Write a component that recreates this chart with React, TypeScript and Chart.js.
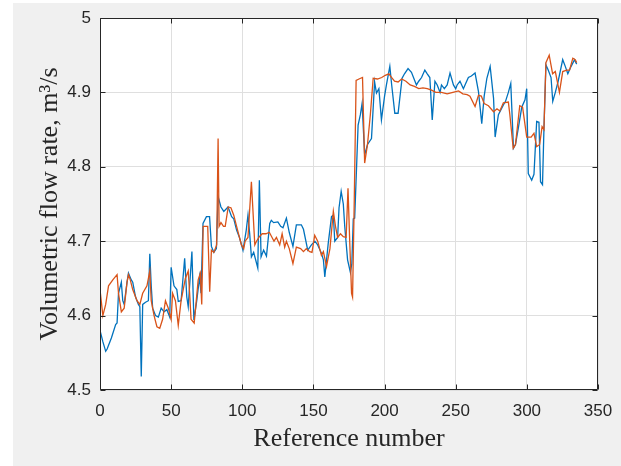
import React, { useEffect, useRef } from "react";
import { Chart, registerables } from "chart.js";

Chart.register(...registerables);

// Blue series (reference number, flow rate)
const blueX = [
  0, 2, 4, 5, 8, 11, 12, 13, 15, 16,
  17, 19, 20, 22, 23, 25, 27, 28, 29, 30,
  32, 34, 35, 36, 37, 39, 41, 43, 45, 47,
  49, 50, 52, 54, 55, 57, 59.5, 61, 62, 64.6,
  66, 68, 70, 71, 72.4, 74.8, 77, 78.3, 80, 81.8,
  83, 85, 87, 90, 92.5, 94, 96, 98, 100.5, 102.8,
  104, 105.2, 106.4, 108, 110.9, 112, 113.2, 115, 117, 119.3,
  120.4, 122, 125, 127, 128.6, 131, 133, 135.6, 138, 141.5,
  143, 146, 148.6, 151, 153, 155.6, 157, 158, 160.4, 162.7,
  164, 165, 167, 168, 169.5, 171, 172, 174, 176, 177,
  178, 179, 181.4, 183, 184.2, 186, 188, 190.8, 193, 194.3,
  196, 197.8, 200, 201.3, 203.7, 205, 207.2, 209.5, 212.3, 214,
  216.5, 218.9, 222.4, 224, 226, 228.3, 230, 231.8, 233.5, 235.4,
  237, 239, 240, 242, 244, 246, 248.4, 250, 251, 253,
  255.4, 257, 258.9, 261, 263.6, 266, 268.3, 270, 271.9, 274.2,
  276.6, 277.7, 280, 283.5, 285, 287, 288.7, 290.6, 292, 294,
  296.4, 298.7, 299.9, 301, 303.4, 305, 306.9, 308.5, 309.6, 311,
  312, 313.4, 315, 317, 318.2, 320, 322, 325.2, 327, 328.8,
  331.1, 333.5, 335,
];
const blueY = [
  4.58, 4.565, 4.552, 4.555, 4.57, 4.588, 4.59, 4.63, 4.645, 4.62,
  4.615, 4.645, 4.657, 4.648, 4.645, 4.625, 4.615, 4.612, 4.518, 4.615,
  4.618, 4.62, 4.683, 4.64, 4.61, 4.6, 4.598, 4.61, 4.605, 4.608,
  4.598, 4.665, 4.64, 4.635, 4.619, 4.62, 4.677, 4.625, 4.612, 4.686,
  4.594, 4.62, 4.652, 4.63, 4.724, 4.733, 4.733, 4.693, 4.685, 4.69,
  4.76, 4.746, 4.74, 4.746, 4.733, 4.73, 4.715, 4.705, 4.688, 4.715,
  4.735, 4.71, 4.679, 4.685, 4.664, 4.782, 4.679, 4.688, 4.68, 4.724,
  4.728, 4.725, 4.726, 4.72, 4.718, 4.731, 4.712, 4.693, 4.722, 4.722,
  4.716, 4.688, 4.695, 4.7, 4.695, 4.684, 4.675, 4.652, 4.697, 4.733,
  4.735, 4.7, 4.705, 4.745, 4.767, 4.75, 4.72, 4.675, 4.658, 4.67,
  4.73, 4.731, 4.856, 4.87, 4.885, 4.816, 4.83, 4.838, 4.914, 4.899,
  4.905, 4.863, 4.895, 4.91, 4.935, 4.91, 4.872, 4.872, 4.919, 4.925,
  4.932, 4.927, 4.91, 4.915, 4.92, 4.93, 4.925, 4.92, 4.863, 4.915,
  4.91, 4.9, 4.91, 4.905, 4.91, 4.926, 4.91, 4.905, 4.91, 4.915,
  4.905, 4.912, 4.92, 4.922, 4.926, 4.901, 4.858, 4.895, 4.919, 4.935,
  4.892, 4.84, 4.87, 4.883, 4.888, 4.9, 4.912, 4.825, 4.83, 4.852,
  4.88, 4.89, 4.905, 4.791, 4.782, 4.79, 4.861, 4.86, 4.78, 4.776,
  4.85, 4.937, 4.93, 4.92, 4.888, 4.9, 4.915, 4.944, 4.935, 4.925,
  4.935, 4.944, 4.938,
];

// Orange series (reference number, flow rate)
const orangeX = [
  0, 2, 4, 6, 9, 12, 13, 15, 17, 19,
  20, 21, 23, 26, 28, 30, 33, 35, 36, 38,
  40, 42, 44, 46, 48, 50, 51, 53, 55, 57,
  60, 62, 63, 64, 66.2, 69, 70.5, 71.5, 72.5, 75.7,
  77.1, 78.3, 80, 82, 83, 83.7, 85, 86.8, 88, 90.1,
  92, 94, 96, 99.4, 101, 102, 104, 106.4, 108.8, 110,
  112, 114, 116.6, 119, 122.3, 124, 126.3, 128, 129.8, 131,
  133, 135.6, 138, 141, 143, 145, 147.4, 149, 150.9, 153,
  155.6, 157, 159.2, 161.6, 164, 165.5, 167, 169, 171, 173,
  174.3, 175.5, 176.8, 177.5, 178.7, 180, 182, 184.5, 186, 188,
  190, 192, 195, 198, 200.5, 203, 205, 207, 209.5, 212,
  215, 218, 221, 224, 227, 230, 233, 236, 240, 244,
  248, 252, 255, 258, 260, 263.6, 266, 268, 270, 273,
  276.6, 279, 281, 283.5, 287, 288, 290.4, 292, 295, 297,
  299.9, 303, 305, 306.9, 309, 310.7, 312, 313.4, 315.7, 318.1,
  320, 322.9, 325.2, 328, 330, 332.3, 334, 335,
];
const orangeY = [
  4.635, 4.6, 4.615, 4.64, 4.648, 4.655, 4.63, 4.605, 4.61, 4.645,
  4.655, 4.65, 4.635, 4.62, 4.615, 4.63, 4.64, 4.66, 4.62, 4.6,
  4.585, 4.583, 4.595, 4.62, 4.61, 4.595, 4.63, 4.62, 4.587, 4.62,
  4.65, 4.66, 4.63, 4.595, 4.59, 4.648, 4.657, 4.615, 4.72, 4.72,
  4.632, 4.688, 4.685, 4.695, 4.838, 4.72, 4.725, 4.72, 4.72, 4.746,
  4.745, 4.735, 4.72, 4.695, 4.69, 4.7, 4.705, 4.78, 4.695, 4.7,
  4.706, 4.71, 4.71, 4.712, 4.7, 4.705, 4.695, 4.71, 4.692, 4.7,
  4.69, 4.67, 4.692, 4.69, 4.686, 4.69, 4.686, 4.685, 4.708, 4.7,
  4.681, 4.686, 4.666, 4.69, 4.74, 4.72, 4.705, 4.71, 4.706, 4.705,
  4.771, 4.7, 4.63, 4.625, 4.755, 4.916, 4.918, 4.92, 4.805, 4.83,
  4.87, 4.919, 4.918, 4.92, 4.923, 4.925, 4.92, 4.915, 4.914, 4.918,
  4.915, 4.91, 4.908, 4.905, 4.906, 4.905, 4.903, 4.9, 4.9, 4.898,
  4.9, 4.902, 4.898, 4.897, 4.895, 4.881, 4.896, 4.895, 4.885, 4.882,
  4.874, 4.878, 4.875, 4.886, 4.887, 4.871, 4.825, 4.83, 4.882, 4.88,
  4.84, 4.84, 4.845, 4.827, 4.83, 4.854, 4.85, 4.94, 4.95, 4.925,
  4.928, 4.9, 4.928, 4.93, 4.93, 4.946, 4.944, 4.94,
];

const xTicks = [0, 50, 100, 150, 200, 250, 300, 350];
const yTicks = [4.5, 4.6, 4.7, 4.8, 4.9, 5];
const xTitle = "Reference number";
const yTitle = "Volumetric flow rate, m³/s";

const W = 621;
const H = 466;

const TICK_FONT = "'Liberation Sans', Arial, sans-serif";
const TITLE_FONT = "'Liberation Serif', 'Times New Roman', serif";
const AXIS_COLOR = "#262626";

export default function App() {
  const ref = useRef<HTMLCanvasElement>(null);

  useEffect(() => {
    if (!ref.current) return;

    const boxPlugin = {
      id: "matlabBox",
      beforeDraw(chart: any) {
        const { ctx, chartArea: a } = chart;
        ctx.save();
        ctx.fillStyle = "#ffffff";
        ctx.fillRect(a.left, a.top, a.right - a.left, a.bottom - a.top);
        ctx.restore();
      },
      afterDraw(chart: any) {
        const { ctx, chartArea: a, scales } = chart;
        const L = Math.round(a.left) + 0.5;
        const R = Math.round(a.right) - 0.5;
        const T = Math.round(a.top) + 0.5;
        const B = Math.round(a.bottom) - 0.5;
        const tl = 5;
        ctx.save();
        ctx.strokeStyle = AXIS_COLOR;
        ctx.lineWidth = 1;
        ctx.beginPath();
        ctx.rect(L, T, R - L, B - T);
        ctx.stroke();
        ctx.beginPath();
        for (const v of xTicks) {
          const px = Math.round(scales.x.getPixelForValue(v)) + 0.5;
          ctx.moveTo(px, B);
          ctx.lineTo(px, B - tl);
          ctx.moveTo(px, T);
          ctx.lineTo(px, T + tl);
        }
        for (const v of yTicks) {
          const py = Math.round(scales.y.getPixelForValue(v)) + 0.5;
          ctx.moveTo(L, py);
          ctx.lineTo(L + tl, py);
          ctx.moveTo(R, py);
          ctx.lineTo(R - tl, py);
        }
        ctx.stroke();
        ctx.restore();
      },
    };

    const chart = new Chart(ref.current, {
      type: "line",
      data: {
        datasets: [
          {
            label: "Orange",
            data: orangeX.map((x, i) => ({ x, y: orangeY[i] })),
            borderColor: "#D95319",
            borderWidth: 1.3,
            pointRadius: 0,
            tension: 0,
            fill: false,
            order: 0,
          },
          {
            label: "Blue",
            data: blueX.map((x, i) => ({ x, y: blueY[i] })),
            borderColor: "#0072BD",
            borderWidth: 1.3,
            pointRadius: 0,
            tension: 0,
            fill: false,
            order: 1,
          },
        ],
      },
      options: {
        responsive: false,
        animation: false,
        devicePixelRatio: 1,
        layout: { padding: { left: 0, top: 18, right: 23, bottom: 0 } },
        plugins: {
          legend: { display: false },
          tooltip: { enabled: false },
        },
        scales: {
          x: {
            type: "linear",
            min: 0,
            max: 350,
            afterBuildTicks: (s: any) => {
              s.ticks = xTicks.map((v) => ({ value: v }));
            },
            afterFit: (s: any) => {
              s.height = 76;
              s.paddingLeft = 0;
              s.paddingRight = 0;
            },
            ticks: {
              font: { family: TICK_FONT, size: 17 },
              color: AXIS_COLOR,
              padding: 11,
              maxRotation: 0,
              autoSkip: false,
              callback: (v: any) => String(v),
            },
            grid: { color: "#dfdfdf", drawTicks: false, lineWidth: 1 },
            border: { display: false },
            title: {
              display: true,
              text: xTitle,
              font: { family: TITLE_FONT, size: 26 },
              color: AXIS_COLOR,
              padding: { top: 0, bottom: 11 },
            },
          },
          y: {
            type: "linear",
            min: 4.5,
            max: 5,
            afterBuildTicks: (s: any) => {
              s.ticks = yTicks.map((v) => ({ value: v }));
            },
            afterFit: (s: any) => {
              s.width = 100;
              s.paddingTop = 0;
              s.paddingBottom = 0;
            },
            ticks: {
              font: { family: TICK_FONT, size: 17 },
              color: AXIS_COLOR,
              padding: 9,
              autoSkip: false,
              callback: (v: any) => String(Math.round(Number(v) * 10) / 10),
            },
            grid: { color: "#dfdfdf", drawTicks: false, lineWidth: 1 },
            border: { display: false },
            title: {
              display: true,
              text: yTitle,
              font: { family: TITLE_FONT, size: 26 },
              color: AXIS_COLOR,
              padding: { top: 35, bottom: 0 },
            },
          },
        },
      },
      plugins: [boxPlugin],
    } as any);

    return () => chart.destroy();
  }, []);

  return (
    <div
      style={{
        position: "fixed",
        left: 0,
        top: 0,
        width: W,
        height: H,
        background: "#ffffff",
        overflow: "hidden",
      }}
    >
      <div
        style={{
          position: "absolute",
          left: 13,
          top: 3,
          right: 0,
          bottom: 0,
          background: "#f0f0f0",
        }}
      />
      <canvas
        ref={ref}
        width={W}
        height={H}
        style={{ position: "absolute", left: 0, top: 0, width: W, height: H }}
      />
    </div>
  );
}
